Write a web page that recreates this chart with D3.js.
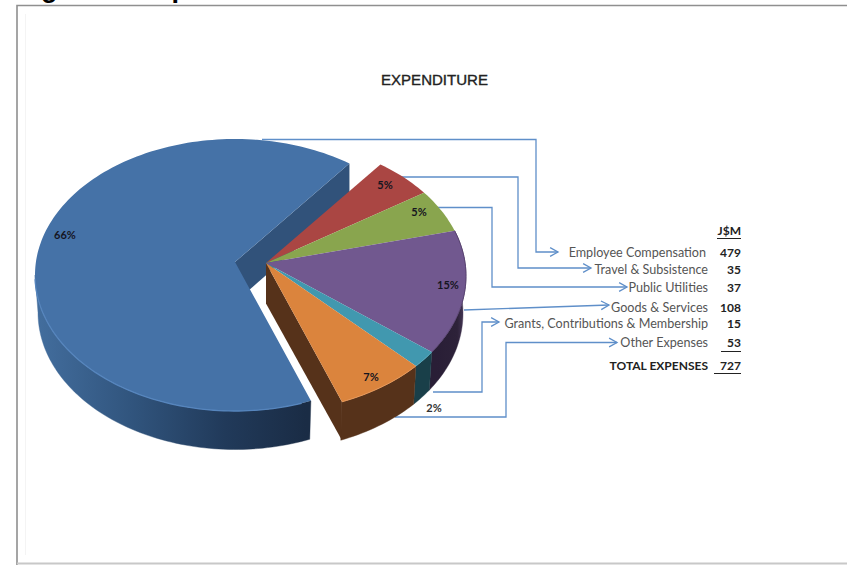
<!DOCTYPE html>
<html>
<head>
<meta charset="utf-8">
<script src="https://cdnjs.cloudflare.com/ajax/libs/d3/7.8.5/d3.min.js"></script>
<style>
  html, body { margin: 0; padding: 0; background: #fff; }
  svg { display: block; }
</style>
</head>
<body>
<svg id="chart" width="847" height="565"></svg>
<script>
// Expenditure by category, J$M
const categories = ["Employee Compensation", "Travel & Subsistence", "Public Utilities",
                    "Goods & Services", "Grants, Contributions & Membership", "Other Expenses"];
const amounts = [479, 35, 37, 108, 15, 53];
const sliceColors = ["#4572a7", "#aa4643", "#89a54e", "#71588f", "#4198af", "#db843d"];
const wallColors = ["#31527a", "#6d2c2a", "#586a32", "#2d2239", "#193f49", "#56321a"];

const unitHeader = "J$M";
const totalLabel = "TOTAL EXPENSES";
const chartTitle = "EXPENDITURE";
const pageHeading = "Figure 3: Expenditure";

// Projection of the tilted disc: apex sits above the ellipse centre, the
// lower rim is the same ellipse dropped by the thickness and slightly narrowed.
const disc = { rx: 200, ry: 136, apexLift: 13, depth: 38.5, lowRx: 197, lowRy: 137 };
const mainApex = { x: 235, y: 262 };      // pulled-out employee slice
const restApex = { x: 266, y: 263 };      // remaining slices

const pieAngles = d3.pie().sort(null).startAngle(157.7 * Math.PI / 180)
  .endAngle(517.7 * Math.PI / 180)(amounts);

const lineGen = d3.line().x(d => d[0]).y(d => d[1]);
const svg = d3.select("#chart");

function topPoint(apex, a) {
  const t = a - Math.PI / 2;
  return [apex.x + disc.rx * Math.cos(t), apex.y + disc.apexLift + disc.ry * Math.sin(t)];
}
function lowPoint(apex, a) {
  const t = a - Math.PI / 2;
  return [apex.x + disc.lowRx * Math.cos(t),
          apex.y + disc.apexLift + disc.depth + disc.lowRy * Math.sin(t) - 1];
}
function sampleAngles(a0, a1) {
  const n = Math.max(2, Math.ceil(Math.abs(a1 - a0) * 40));
  return d3.range(n + 1).map(i => a0 + (a1 - a0) * i / n);
}
const apexOf = i => i === 0 ? mainApex : restApex;

// ---- gradients for the curved outer walls
const defs = svg.append("defs");
function hGradient(id, x0, x1, stops) {
  const g = defs.append("linearGradient").attr("id", id)
    .attr("gradientUnits", "userSpaceOnUse")
    .attr("x1", x0).attr("x2", x1).attr("y1", 0).attr("y2", 0);
  stops.forEach(s => g.append("stop").attr("offset", s[0]).attr("stop-color", s[1]));
}
hGradient("wall-blue", 35, 306, [[0, "#436e9e"], [0.35, "#31557e"], [0.7, "#213a5a"], [1, "#1a2c45"]]);
hGradient("wall-purple", 437, 466, [[0, "#291e36"], [0.7, "#2d2239"], [1, "#4d3d5f"]]);

// ---- page frame and the heading that runs off the top edge
svg.append("text").text(pageHeading)
  .attr("x", 17).attr("y", -3)
  .attr("font-family", "Liberation Sans").attr("font-weight", "bold").attr("font-size", 27)
  .attr("fill", "#000");

svg.append("path")
  .attr("d", "M847,5.5H17V565")
  .attr("fill", "none").attr("stroke", "#8f8f8f").attr("stroke-width", 1.6);
svg.append("path")
  .attr("d", "M17,563.5H847")
  .attr("fill", "none").attr("stroke", "#c8c8c8").attr("stroke-width", 2);
svg.append("path")
  .attr("d", "M25.5,14V555")
  .attr("fill", "none").attr("stroke", "#f4f4f4").attr("stroke-width", 1);

svg.append("text").text(chartTitle)
  .attr("x", 434.5).attr("y", 85).attr("text-anchor", "middle")
  .attr("font-family", "Liberation Sans").attr("font-size", 14)
  .attr("fill", "#222").attr("stroke", "#222").attr("stroke-width", 0.35)
  .attr("textLength", 107).attr("lengthAdjust", "spacingAndGlyphs");

// ---- leader lines sit beneath the pie
const leaderRoutes = [
  [[262, 139.5], [536, 139.5], [536, 252], [558, 252]],
  [[400, 177], [518, 177], [518, 268], [591, 268]],
  [[437, 207.5], [492, 207.5], [492, 287], [627, 287]],
  [[464, 310], [609, 305]],
  [[433, 392], [482, 392], [482, 322], [499, 322]],
  [[395, 417], [506, 417], [506, 342.5], [617, 342.5]]
];
const leaderColor = "#5f8fc9";
const leaders = svg.append("g").attr("fill", "none").attr("stroke", leaderColor).attr("stroke-width", 1.3);
leaderRoutes.forEach(route => {
  leaders.append("path").attr("d", lineGen(route));
  const tip = route[route.length - 1];
  const prev = route[route.length - 2];
  const ang = Math.atan2(tip[1] - prev[1], tip[0] - prev[0]);
  const barb = s => [tip[0] - 9 * Math.cos(ang + s), tip[1] - 9 * Math.sin(ang + s)];
  leaders.append("path").attr("d", lineGen([barb(0.5), tip, barb(-0.5)]));
});

// ---- pie: cut walls and outer walls first, top faces afterwards
const pieLayer = svg.append("g");

function cutWall(i, a) {
  const apex = apexOf(i);
  const outer = topPoint(apex, a);
  pieLayer.append("path")
    .attr("d", lineGen([[apex.x, apex.y], outer, [outer[0], outer[1] + disc.depth],
                        [apex.x, apex.y + disc.depth + 2]]) + "Z")
    .attr("fill", wallColors[i]);
}
function outerWall(i, a0, a1, fill) {
  const apex = apexOf(i);
  const angles = sampleAngles(a0, a1);
  const pts = angles.map(a => topPoint(apex, a))
    .concat(angles.slice().reverse().map(a => lowPoint(apex, a)));
  pieLayer.append("path").attr("d", lineGen(pts) + "Z").attr("fill", fill).attr("stroke", fill).attr("stroke-width", 0.4);
}
function topFace(i, s) {
  const apex = apexOf(i);
  const pts = [[apex.x, apex.y]].concat(sampleAngles(s.startAngle, s.endAngle).map(a => topPoint(apex, a)));
  pieLayer.append("path").attr("d", lineGen(pts) + "Z").attr("fill", sliceColors[i]);
}

// employee slice: the far cut wall shows through the gap, the curved wall runs
// along the front from the near cut round to the left extreme
const blue = pieAngles[0];
cutWall(0, blue.endAngle);
outerWall(0, blue.startAngle, 1.5 * Math.PI, "url(#wall-blue)");
topFace(0, blue);
pieLayer.append("path")
  .attr("d", lineGen(sampleAngles(blue.startAngle + 0.05, 1.49 * Math.PI).map(a => topPoint(mainApex, a))))
  .attr("fill", "none").attr("stroke", "#5685bd").attr("stroke-width", 1.3);

// remaining slices
[3, 4, 5].forEach(i => {
  const s = pieAngles[i];
  outerWall(i, s.startAngle, s.endAngle, i === 3 ? "url(#wall-purple)" : wallColors[i]);
});
cutWall(5, pieAngles[5].endAngle);
[1, 2, 3, 4, 5].forEach(i => topFace(i, pieAngles[i]));

// soft bevel along the front rim of the coloured faces
[[3, "#5b4574"], [4, "#57a9bf"], [5, "#e8995a"]].forEach(([i, c]) => {
  const s = pieAngles[i];
  pieLayer.append("path")
    .attr("d", lineGen(sampleAngles(s.startAngle, s.endAngle).map(a => topPoint(restApex, a))))
    .attr("fill", "none").attr("stroke", c).attr("stroke-width", 1);
});

// ---- percentage labels
const labelFont = "Lato";
const pct = d3.format(".0%");
const total = d3.sum(amounts);
const labelSpots = [[65, 235], [385, 185], [419, 212], [448, 285], [434, 408], [371, 377]];
svg.append("g").selectAll("text").data(amounts).join("text")
  .text(d => pct(d / total))
  .attr("x", (d, i) => labelSpots[i][0])
  .attr("y", (d, i) => labelSpots[i][1] + 3.5)
  .attr("text-anchor", "middle")
  .attr("font-family", labelFont).attr("font-size", 11).attr("font-weight", "bold")
  .attr("fill", (d, i) => i === 4 ? "#333" : "#15151f");

// ---- table to the right of the pie
const nameRight = [706, 708, 708, 708, 708, 708], valueRight = 741;
const rowY = [253, 270, 288, 308, 324, 343];
const table = svg.append("g").attr("font-family", labelFont).attr("font-size", 12);
table.selectAll("text.name").data(categories).join("text").attr("class", "name")
  .text(d => d)
  .attr("x", (d, i) => nameRight[i]).attr("y", (d, i) => rowY[i] + 4)
  .attr("text-anchor", "end").attr("font-size", 12.6).attr("fill", "#555");
table.selectAll("text.val").data(amounts).join("text").attr("class", "val")
  .text(d => d)
  .attr("x", valueRight).attr("y", (d, i) => rowY[i] + 4)
  .attr("text-anchor", "end").attr("font-weight", "bold").attr("fill", "#222");

table.append("text").text(unitHeader)
  .attr("x", valueRight).attr("y", 235).attr("text-anchor", "end")
  .attr("font-weight", "bold").attr("fill", "#222");
table.append("text").text(totalLabel)
  .attr("x", 708).attr("y", 369.5).attr("text-anchor", "end")
  .attr("font-weight", "bold").attr("fill", "#222");
table.append("text").text(total)
  .attr("x", valueRight).attr("y", 369.5).attr("text-anchor", "end")
  .attr("font-weight", "bold").attr("fill", "#222");

// accounting rules under the header, the last item and the total
[[717, 238.5], [721, 351.5], [714, 373.5]].forEach(([x0, y]) => {
  table.append("path").attr("d", `M${x0},${y}H${valueRight}`)
    .attr("stroke", "#222").attr("stroke-width", 1).attr("fill", "none");
});
</script>
</body>
</html>
